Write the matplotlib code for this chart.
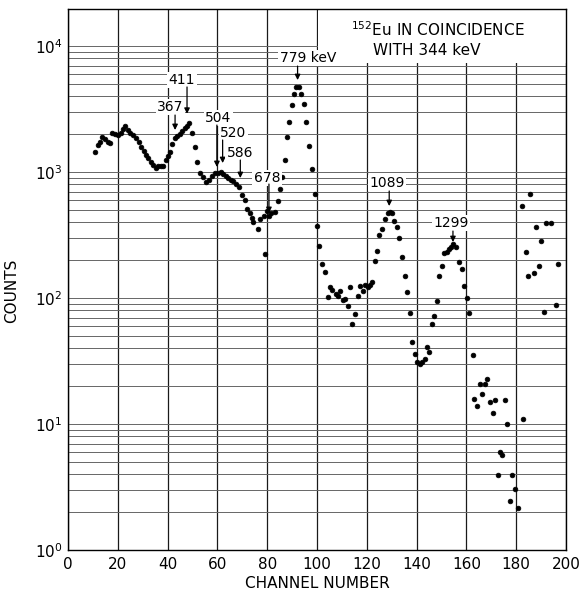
import numpy as np
import matplotlib
matplotlib.use("Agg")
import matplotlib.pyplot as plt
from matplotlib.patches import Rectangle
from matplotlib.transforms import blended_transform_factory
from matplotlib.ticker import FixedLocator

# ---------------- data ----------------
channels = [
    10.7, 11.9, 12.9, 13.8, 14.9, 15.9, 16.9, 17.8, 19.0, 20.2, 21.2, 22.1, 23.0, 24.0,
    25.0, 26.1, 27.3, 28.4, 29.4, 30.4, 31.5, 32.3, 33.2, 34.3, 35.2, 36.3, 37.2, 38.2,
    39.2, 40.2, 41.0, 41.9, 43.0, 43.9, 45.0, 45.8, 46.9, 47.7, 48.6, 49.9, 51.0, 51.9,
    53.1, 54.3, 55.4, 56.5, 57.7, 59.0, 60.2, 61.4, 62.4, 63.3, 64.4, 65.5, 66.4, 67.5,
    68.5, 70.0, 71.0, 72.0, 73.0, 73.8, 74.4, 76.2, 77.1, 78.6, 79.2, 79.8, 80.8, 81.6,
    83.1, 84.2, 85.0, 85.8, 87.0, 87.9, 88.9, 89.8, 90.9, 91.7, 92.6, 93.6, 94.7, 95.7,
    96.8, 98.1, 99.1, 100.0, 100.7, 102.0, 103.2, 104.4, 105.2, 106.0, 107.5, 108.3,
    109.2, 110.3, 111.4, 112.3, 113.1, 114.2, 115.3, 116.5, 117.4, 118.6, 119.3, 120.4,
    121.3, 122.2, 123.2, 124.1, 124.9, 126.0, 127.3, 128.4, 129.3, 130.1, 131.0, 132.0,
    132.9, 134.1, 135.3, 136.3, 137.2, 138.2, 139.2, 140.3, 141.4, 142.3, 143.4, 144.2,
    145.1, 146.2, 147.1, 148.2, 149.1, 150.2, 151.1, 152.1, 152.9, 153.7, 154.7, 155.9,
    157.0, 158.1, 159.0, 160.1, 161.2, 162.5, 163.2, 164.4, 165.5, 166.4, 167.5, 168.4,
    169.4, 170.6, 171.5, 172.8, 173.6, 174.3, 175.4, 176.4, 177.4, 178.4, 179.5, 180.8,
    182.5, 182.6, 183.8, 184.9, 185.7, 187.3, 188.1, 189.2, 189.8, 191.2, 192.0, 194.1,
    196.1, 196.9,
]
counts = [
    1440, 1630, 1740, 1885, 1820, 1740, 1700, 2040, 1990, 1960, 2040, 2180, 2300, 2150,
    2050, 1960, 1850, 1740, 1580, 1470, 1370, 1290, 1200, 1140, 1070, 1120, 1120, 1110,
    1235, 1350, 1440, 1660, 1870, 1940, 1990, 2100, 2220, 2330, 2470, 2040, 1570, 1200,
    990, 910, 840, 870, 930, 980, 980, 1000, 960, 930, 890, 860, 845, 800,
    760, 660, 605, 505, 470, 430, 400, 350, 427, 445, 224, 490, 445, 475,
    480, 585, 730, 910, 1255, 1900, 2500, 3400, 4150, 4700, 4700, 4150, 3460, 2480,
    1620, 1050, 675, 375, 260, 186, 160, 101, 123, 116, 108, 104,
    114, 96, 99, 86, 123, 62, 75, 103, 124, 113, 128, 122,
    128, 133, 195, 237, 316, 351, 424, 475, 479, 475, 410, 368,
    301, 210, 150, 111, 76, 45, 36, 31, 30, 31, 33, 41,
    37.5, 62, 72, 95, 150, 180, 226, 232, 245, 253, 268, 253,
    194, 169, 125, 100, 76, 35, 15.7, 14, 20.8, 17.3, 20.8, 22.8,
    15, 12.3, 15.5, 3.96, 6.0, 5.7, 15.4, 10, 2.43, 3.92, 3.05, 2.14,
    537, 11, 233, 149, 673, 158, 368, 178, 282, 77, 394, 396,
    88, 186,
]

# peak annotations (energies in keV) and the channel each arrow marks
peak_labels = ["367", "411", "504", "520", "586", "678", "779 keV", "1089", "1299"]
peak_channels = [43.0, 47.8, 59.8, 62.1, 69.2, 80.7, 92.2, 129.0, 154.6]

x_ticks = [0, 20, 40, 60, 80, 100, 120, 140, 160, 180, 200]

# ---------------- layout (text position, arrow start, arrow tip) ----------------
# (text_x, text_y, arrow_start_y, arrow_tip_y)
ann_layout = [
    (41.0, 3280, 2833, 2155),
    (45.8, 5370, 4730, 2900),
    (60.4, 2684, 2360, 1096),
    (66.3, 2040, 1795, 1178),
    (69.1, 1415, 1245, 896),
    (79.9, 896, 803, 473),
    (96.4, 8030, 6935, 5370),
    (128.1, 818, 707, 537),
    (153.8, 394, 340, 278),
]

W, H = 581, 590
fig = plt.figure(figsize=(W / 100, H / 100), dpi=100)
ax = fig.add_axes([68 / W, 1 - 550 / H, (566 - 68) / W, (550 - 9) / H])

ax.set_yscale("log")
ax.set_xlim(0, 200)
ax.set_ylim(1, 10 ** 4.294)

# grid
ax.set_xticks(x_ticks)
ax.yaxis.set_major_locator(FixedLocator([1, 10, 100, 1000, 10000]))
minors = [m * 10 ** e for e in range(0, 4) for m in range(2, 10)]
ax.yaxis.set_minor_locator(FixedLocator(minors))
ax.grid(True, axis="x", which="major", color="0.1", lw=0.9)
ax.grid(True, axis="y", which="both", color="0.4", lw=0.7)
ax.set_axisbelow(True)

ax.tick_params(axis="both", which="both", length=0, labelsize=11, pad=5)
ax.tick_params(axis="y", pad=4)
for s in ax.spines.values():
    s.set_color("black")
    s.set_linewidth(1.0)
    s.set_zorder(6)

# white title box in the upper right (hides grid there)
trans = blended_transform_factory(ax.transData, ax.transAxes)
ax.add_patch(Rectangle((100.5, 0.900), 99.5, 0.10, transform=trans,
                       facecolor="white", edgecolor="none", zorder=3))
ax.text(0.743, 0.961, r"$^{152}$Eu IN COINCIDENCE", transform=ax.transAxes,
        ha="center", va="center", fontsize=11, zorder=5)
ax.text(0.721, 0.924, "WITH 344 keV", transform=ax.transAxes,
        ha="center", va="center", fontsize=11, zorder=5)

# data points
ax.plot(channels, counts, "o", color="black", ms=3.4, mec="black", mew=0.5, zorder=4)

# annotations
for lab, ch, (tx, ty, sy, tipy) in zip(peak_labels, peak_channels, ann_layout):
    ax.text(tx, ty, lab, ha="center", va="center", fontsize=10, zorder=5,
            bbox=dict(facecolor="white", edgecolor="none", pad=1.0))
    ax.annotate("", xy=(ch, tipy), xytext=(ch, sy),
                arrowprops=dict(arrowstyle="-|>", color="black", lw=0.9,
                                mutation_scale=8, shrinkA=0, shrinkB=0),
                zorder=5)

ax.set_xlabel("CHANNEL NUMBER", fontsize=11)
ax.set_ylabel("COUNTS", fontsize=11)
ax.xaxis.set_label_coords(0.5, -0.048)
ax.yaxis.set_label_coords(-0.098, 0.479)

fig.savefig("out.png", dpi=100)
